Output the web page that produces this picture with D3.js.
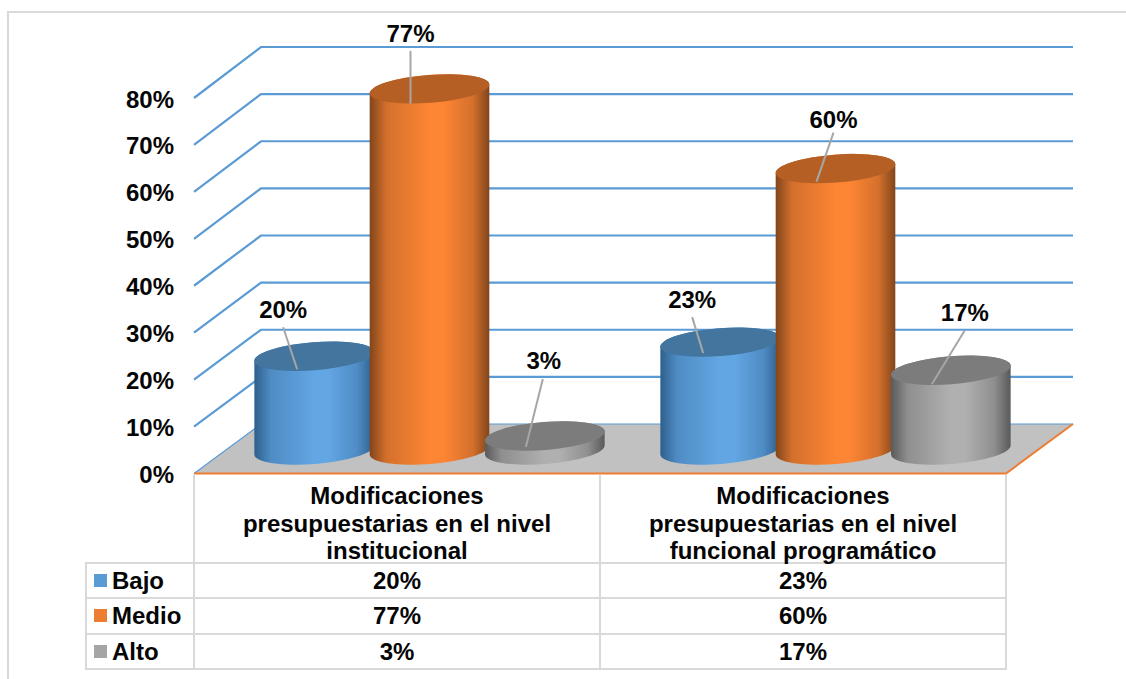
<!DOCTYPE html>
<html><head><meta charset="utf-8">
<style>html,body{margin:0;padding:0;background:#fff}svg{display:block}text{font-family:"Liberation Sans",Arial,sans-serif;font-weight:bold;fill:#050505}</style>
<script src="https://cdn.jsdelivr.net/npm/d3@7"></script>
</head><body>
<script>
// Survey results by level and budget-change category
const categories = [
  ["Modificaciones", "presupuestarias en el nivel", "institucional"],
  ["Modificaciones", "presupuestarias en el nivel", "funcional programático"]
];
const seriesNames = ["Bajo", "Medio", "Alto"];
const bajo = [20, 23];
const medio = [77, 60];
const alto = [3, 17];
const axisTicks = d3.range(0, 90, 10);

// Hand placement of each data label and its leader line, relative to the cylinder top
const labelPlacement = [
  [{dx:-31, dy:-38, lx:-31, ly:-29, ex:-17, ey:13}, {dx:-28, dy:-34, lx:-28, ly:-25, ex:-17, ey:11}],
  [{dx:-19, dy:-47, lx:-19, ly:-38, ex:-19, ey:15}, {dx:-2, dy:-41, lx:-2, ly:-36, ex:-19, ey:13}],
  [{dx:-1, dy:-67, lx:-2, ly:-57, ex:-19, ey:11}, {dx:14, dy:-49, lx:14, ly:-40, ex:-19, ey:14}]
];

const W = 1126, H = 679;
const values = [bajo, medio, alto];
const palette = [
  {key:"#5b9bd5", light:"#62a6e3", mid:"#4f8cc4", dark:"#2e5f8c", top:"#44759f"},
  {key:"#ed7d31", light:"#fd8534", mid:"#d4702c", dark:"#82451b", top:"#b55f25"},
  {key:"#a5a5a5", light:"#b0b0b0", mid:"#8f8f8f", dark:"#5a5a5a", top:"#7c7c7c"}
];
const gridBlue = "#5b9bd5", tableGrey = "#d9d9d9", leaderGrey = "#a6a6a6";
const fontSize = 24;

const svg = d3.select("body").append("svg").attr("width", W).attr("height", H);

// Chart frame: only the top and left edges show
svg.append("path").attr("fill","none").attr("stroke",tableGrey).attr("stroke-width",2)
  .attr("d",`M8,${H}V12H${W}`);

// Scales: one vertical scale per depth plane, horizontal bands along the front edge
const left = 194, right = 1006, depthX = 67;
const yFront = d3.scaleLinear().domain([0,80]).range([473.5,98]);
const yBack  = d3.scaleLinear().domain([0,80]).range([424,47]);
const yMid   = d3.scaleLinear().domain([0,100]).range([450,-19]);
const xCat = d3.scaleBand().domain(d3.range(categories.length)).range([left,right]);
const xSer = d3.scaleBand().domain(d3.range(seriesNames.length)).range([0,346]);
const cylShift = 32.5;

// Floor of the plot
svg.append("path").attr("fill","#c1c1c1")
  .attr("d",`M${left},${yFront(0)}L${left+depthX},${yBack(0)}H${right+depthX}L${right},${yFront(0)}Z`);

// Gridlines running across the back wall and down the side wall
const grid = svg.append("g").attr("fill","none").attr("stroke",gridBlue);
axisTicks.forEach(t => {
  grid.append("path").attr("stroke-width",t === 0 ? 1.2 : 2.2)
    .attr("d",`M${left},${yFront(t)}L${left+depthX},${yBack(t)}H${right+depthX}`);
});

// Orange front and right edges of the floor
svg.append("path").attr("fill","none").attr("stroke","#ed7d31").attr("stroke-width",2)
  .attr("d",`M${left},${yFront(0)}H${right}L${right+depthX},${yBack(0)}`);

// Value axis labels
svg.append("g").selectAll("text").data(axisTicks).join("text")
  .attr("x",174).attr("y",d=>yFront(d)+9.5).attr("text-anchor","end")
  .attr("font-size",fontSize).text(d=>d+"%");

// Horizontal gradients that shade each cylinder wall
const defs = svg.append("defs");
palette.forEach((p,i)=>{
  const g = defs.append("linearGradient").attr("id","wall"+i);
  [[0,p.dark],[0.14,p.mid],[0.5,p.light],[0.62,p.light],[0.86,p.mid],[1,p.dark]].forEach(([o,c])=>
    g.append("stop").attr("offset",o).attr("stop-color",c));
});

// Cylinders, drawn left to right so later ones overlap earlier ones
const rx = 60, ry = 14, tilt = -4.5;
const tx = rx*Math.cos(tilt*Math.PI/180), ty = rx*Math.sin(tilt*Math.PI/180);
const labels = [];
categories.forEach((c,ci)=>{
  seriesNames.forEach((s,si)=>{
    const v = values[si][ci];
    const cx = xCat(ci) + xSer(si) + xSer.bandwidth()/2 + cylShift + (xCat.bandwidth()-346)/2;
    const yT = yMid(v), yB = yMid(0);
    const g = svg.append("g");
    g.append("path").attr("fill",`url(#wall${si})`)
      .attr("d",`M${cx-tx},${yT-ty}L${cx-tx},${yB-ty}A${rx},${ry} ${tilt} 0 0 ${cx+tx},${yB+ty}L${cx+tx},${yT+ty}A${rx},${ry} ${tilt} 0 0 ${cx-tx},${yT-ty}Z`);
    g.append("ellipse").attr("rx",rx).attr("ry",ry).attr("fill",palette[si].top)
      .attr("transform",`translate(${cx},${yT}) rotate(${tilt})`);
    labels.push({cx,yT,v,p:labelPlacement[si][ci]});
  });
});

// Data labels with leader lines
labels.forEach(l=>{
  svg.append("line").attr("stroke",leaderGrey).attr("stroke-width",2)
    .attr("x1",l.cx+l.p.lx).attr("y1",l.yT+l.p.ly).attr("x2",l.cx+l.p.ex).attr("y2",l.yT+l.p.ey);
  svg.append("text").attr("x",l.cx+l.p.dx).attr("y",l.yT+l.p.dy).attr("text-anchor","middle")
    .attr("font-size",fontSize).text(l.v+"%");
});

// Data table under the plot
const rows = [563,598,634,669];
const colX = [86,194,600,1006];
const tbl = svg.append("g").attr("stroke",tableGrey).attr("stroke-width",2);
[1,2,3].forEach(i=>tbl.append("line").attr("x1",colX[i]).attr("x2",colX[i]).attr("y1",yFront(0)+1).attr("y2",rows[3]));
tbl.append("line").attr("x1",colX[0]).attr("x2",colX[0]).attr("y1",rows[0]).attr("y2",rows[3]);
rows.forEach(y=>tbl.append("line").attr("x1",colX[0]-1).attr("x2",colX[3]+1).attr("y1",y).attr("y2",y));

categories.forEach((lines,ci)=>{
  const cx = xCat(ci)+xCat.bandwidth()/2;
  lines.forEach((t,li)=>svg.append("text").attr("x",cx).attr("y",504+li*27.5)
    .attr("text-anchor","middle").attr("font-size",fontSize).text(t));
});
seriesNames.forEach((s,si)=>{
  const y = rows[si];
  svg.append("rect").attr("x",94).attr("y",y+11).attr("width",13).attr("height",13).attr("fill",palette[si].key);
  svg.append("text").attr("x",112).attr("y",y+25.5).attr("font-size",fontSize).text(s);
  categories.forEach((c,ci)=>svg.append("text").attr("x",xCat(ci)+xCat.bandwidth()/2).attr("y",y+25.5)
    .attr("text-anchor","middle").attr("font-size",fontSize).text(values[si][ci]+"%"));
});
</script>
</body></html>
